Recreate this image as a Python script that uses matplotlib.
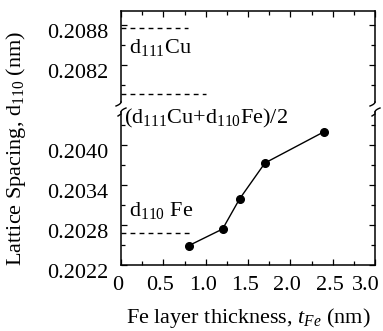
import numpy as np
import matplotlib
matplotlib.use('Agg')
import matplotlib.pyplot as plt
from matplotlib.transforms import ScaledTranslation

plt.rcParams['font.family'] = 'Liberation Serif'
plt.rcParams['mathtext.fontset'] = 'custom'
plt.rcParams['mathtext.rm'] = 'Liberation Serif'
plt.rcParams['mathtext.it'] = 'Liberation Serif:italic'

# data
thickness = [0.8, 1.2, 1.4, 1.7, 2.4]
spacing = [0.20249, 0.20274, 0.20319, 0.20373, 0.20420]

d111_cu = 0.20876
d_mean_mark = 0.20777
d110_fe = 0.20268

x_ticks = [0, 0.5, 1.0, 1.5, 2.0, 2.5, 3.0]
x_labels = ['0', '0.5', '1.0', '1.5', '2.0', '2.5', '3.0']
upper_ticks = [0.2082, 0.2088]
lower_ticks = [0.2022, 0.2028, 0.2034, 0.2040]

W, H = 383, 331
fig = plt.figure(figsize=(3.83, 3.31), dpi=100)

left, right = 121 / W, 375 / W
ax_up = fig.add_axes([left, 1 - 102 / H, right - left, (102 - 11) / H])
ax_lo = fig.add_axes([left, 1 - 265 / H, right - left, (265 - 112) / H])

fs = 16
for ax in (ax_up, ax_lo):
    ax.set_xlim(0, 3.0)
    ax.tick_params(direction='in', which='both', top=True, right=True,
                   labelsize=fs, length=4, width=0.9, pad=9)
    ax.tick_params(which='minor', length=3)
    ax.set_xticks(np.arange(0, 3.01, 0.25), minor=True)
    for s in ax.spines.values():
        s.set_linewidth(1.1)

ax_up.set_ylim(0.207645, 0.20901)
ax_up.set_yticks(upper_ticks)
ax_up.set_yticklabels(['%.4f' % v for v in upper_ticks])
ax_up.set_yticks([0.2079, 0.2085], minor=True)
ax_up.set_xticks(x_ticks)
ax_up.tick_params(axis='x', which='both', bottom=False, labelbottom=False)
ax_up.spines['bottom'].set_visible(False)

ax_lo.set_ylim(0.2022, 0.204495)
ax_lo.set_yticks(lower_ticks)
ax_lo.set_yticklabels(['%.4f' % v for v in lower_ticks])
ax_lo.set_yticks([0.2025, 0.2031, 0.2037, 0.2043], minor=True)
ax_lo.set_xticks(x_ticks)
ax_lo.set_xticklabels(x_labels)
ax_lo.tick_params(axis='x', which='both', top=False, pad=8)
ax_lo.spines['top'].set_visible(False)

# tick labels in the picture sit a little off their ticks
for ax in (ax_up, ax_lo):
    for lab in ax.get_yticklabels():
        lab.set_transform(lab.get_transform() + ScaledTranslation(0, -0.06, fig.dpi_scale_trans))
xlabs = ax_lo.get_xticklabels()
for i, lab in enumerate(xlabs):
    dx = -0.09 if i == len(xlabs) - 1 else -0.03
    lab.set_transform(lab.get_transform() + ScaledTranslation(dx, 0, fig.dpi_scale_trans))

# data
ax_lo.plot(thickness, spacing, color='black', lw=1.0, marker='o', ms=5.5)

ax_up.plot([0, 0.79], [d111_cu, d111_cu], color='black', lw=1.0, ls=(0, (3.5, 3)))
ax_up.plot([0, 1.0], [d_mean_mark, d_mean_mark], color='black', lw=1.0, ls=(0, (3.5, 3)))
ax_lo.plot([0, 0.85], [d110_fe, d110_fe], color='black', lw=1.0, ls=(0, (3.5, 3)))

ax_up.text(0.1, 0.20846, r'd$_{111}$Cu', fontsize=fs, va='center')
ax_lo.text(0.03, 0.20440, r'(d$_{111}$Cu+d$_{110}$Fe)/2', fontsize=fs, va='center')
ax_lo.text(0.1, 0.20302, r'd$_{110}$ Fe', fontsize=fs, va='center')

ax_lo.set_xlabel(r'Fe layer thickness, $t_{Fe}$ (nm)', fontsize=fs, labelpad=8)
fig.text(16 / W, 1 - 148 / H, r'Lattice Spacing, d$_{110}$ (nm)', fontsize=fs,
         rotation=90, ha='center', va='center')

# axis break curls
t = np.linspace(0, 1, 20)
for xs in (121, 375):
    xu = xs - 5 * t ** 2
    yu = 102 + 4 * t
    fig.add_artist(plt.Line2D(xu / W, 1 - yu / H, color='black', lw=1.0))
    xl = xs + 5 * t ** 2
    yl = 112 - 4 * t
    fig.add_artist(plt.Line2D(xl / W, 1 - yl / H, color='black', lw=1.0))
    fig.add_artist(plt.Line2D([xs / W, (xs - 3) / W], [1 - 114 / H, 1 - 116 / H], color='black', lw=1.0))

fig.savefig('out.png', dpi=100)
